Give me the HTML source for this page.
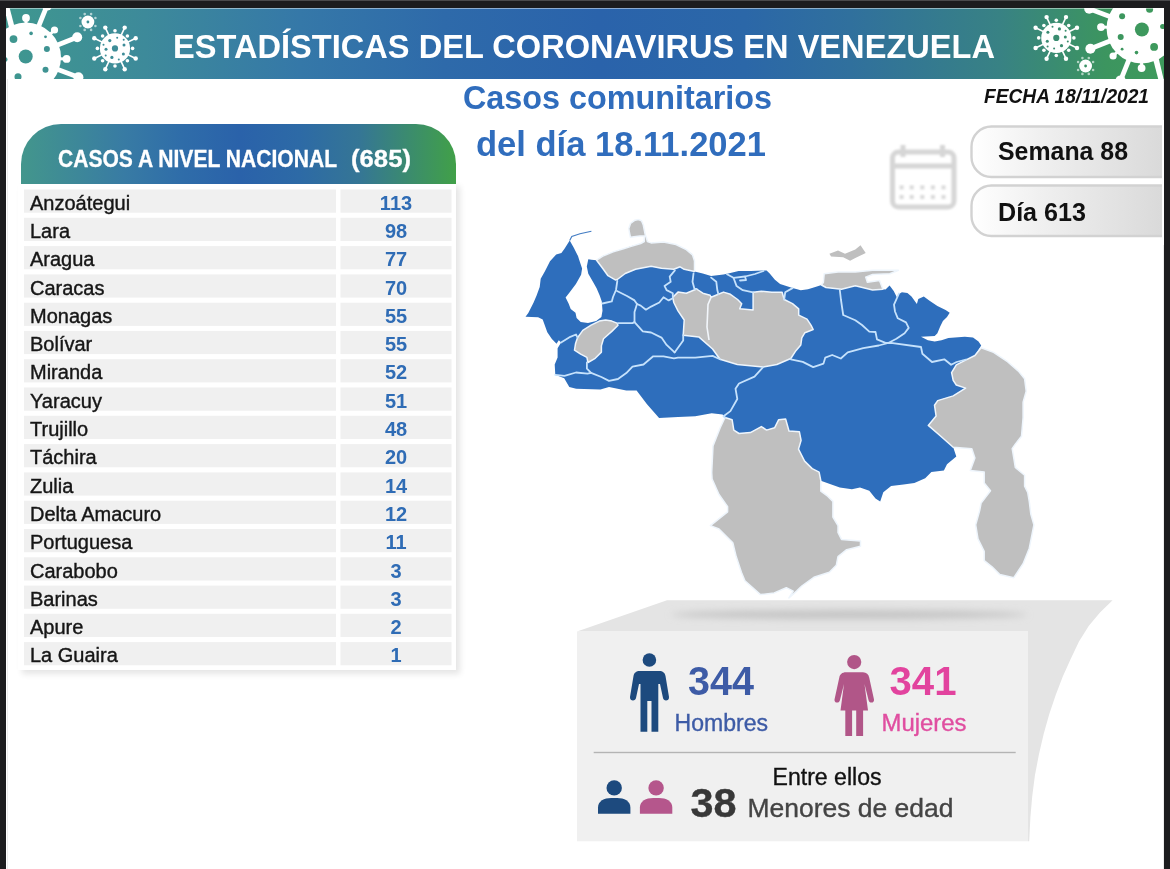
<!DOCTYPE html><html><head><meta charset="utf-8"><title>Estadísticas</title><style>html,body{margin:0;padding:0;background:#1c1c1e;width:1170px;height:869px;overflow:hidden}svg{display:block;will-change:transform}text{font-family:"Liberation Sans",sans-serif}</style></head><body>
<svg width="1170" height="869" viewBox="0 0 1170 869">
<defs>
<linearGradient id="gBan" x1="6" y1="0" x2="1164" y2="0" gradientUnits="userSpaceOnUse"><stop offset="0" stop-color="#3f978f"/><stop offset="0.12" stop-color="#3d8a9a"/><stop offset="0.254" stop-color="#3578a8"/><stop offset="0.379" stop-color="#2e6aaa"/><stop offset="0.513" stop-color="#2a63ab"/><stop offset="0.638" stop-color="#2b67a8"/><stop offset="0.729" stop-color="#30709d"/><stop offset="0.858" stop-color="#388284"/><stop offset="0.95" stop-color="#3c955f"/><stop offset="1" stop-color="#3e9a5c"/></linearGradient>
<linearGradient id="gHead" x1="21" y1="0" x2="456" y2="0" gradientUnits="userSpaceOnUse"><stop offset="0" stop-color="#43968c"/><stop offset="0.239" stop-color="#387ba4"/><stop offset="0.366" stop-color="#2f6da9"/><stop offset="0.503" stop-color="#2a62aa"/><stop offset="0.641" stop-color="#2d6aa6"/><stop offset="0.779" stop-color="#357695"/><stop offset="1" stop-color="#41a048"/></linearGradient>
<linearGradient id="gBox" x1="0" y1="0" x2="1" y2="0"><stop offset="0" stop-color="#ffffff"/><stop offset="0.35" stop-color="#f0f0f0"/><stop offset="1" stop-color="#d9d9d9"/></linearGradient>
<clipPath id="cBan"><rect x="6" y="8" width="1158" height="71"/></clipPath>
<mask id="mVir" maskUnits="userSpaceOnUse" x="0" y="0" width="1170" height="869"><g><g fill="#fff"><circle cx="26" cy="57.5" r="35"/><line x1="26" y1="57.5" x2="26.0" y2="17.9" stroke="#fff" stroke-width="3"/><circle cx="26.0" cy="17.9" r="3.9"/><line x1="26" y1="57.5" x2="47.0" y2="5.6" stroke="#fff" stroke-width="4.8"/><circle cx="47.0" cy="5.6" r="5"/><line x1="26" y1="57.5" x2="54.5" y2="30.0" stroke="#fff" stroke-width="3"/><circle cx="54.5" cy="30.0" r="3.6"/><line x1="26" y1="57.5" x2="77.2" y2="37.3" stroke="#fff" stroke-width="4.8"/><circle cx="77.2" cy="37.3" r="5"/><line x1="26" y1="57.5" x2="66.6" y2="58.9" stroke="#fff" stroke-width="3"/><circle cx="66.6" cy="58.9" r="3.9"/><line x1="26" y1="57.5" x2="78.4" y2="77.2" stroke="#fff" stroke-width="4.8"/><circle cx="78.4" cy="77.2" r="5"/><line x1="26" y1="57.5" x2="56.5" y2="84.9" stroke="#fff" stroke-width="3"/><circle cx="56.5" cy="84.9" r="4"/><line x1="26" y1="57.5" x2="50.5" y2="107.8" stroke="#fff" stroke-width="4.8"/><circle cx="50.5" cy="107.8" r="5"/><line x1="26" y1="57.5" x2="28.9" y2="98.4" stroke="#fff" stroke-width="3"/><circle cx="28.9" cy="98.4" r="4"/><line x1="26" y1="57.5" x2="8.7" y2="110.8" stroke="#fff" stroke-width="4.8"/><circle cx="8.7" cy="110.8" r="5"/><line x1="26" y1="57.5" x2="-23.4" y2="83.8" stroke="#fff" stroke-width="4.8"/><circle cx="-23.4" cy="83.8" r="5"/><line x1="26" y1="57.5" x2="-24.3" y2="33.0" stroke="#fff" stroke-width="4.8"/><circle cx="-24.3" cy="33.0" r="5"/><line x1="26" y1="57.5" x2="-14.9" y2="54.6" stroke="#fff" stroke-width="3"/><circle cx="-14.9" cy="54.6" r="4"/><line x1="26" y1="57.5" x2="-0.4" y2="88.9" stroke="#fff" stroke-width="3"/><circle cx="-0.4" cy="88.9" r="4"/><polygon points="3.3,4 8.6,4 15,28.5 9.5,30"/></g><g fill="#000"><circle cx="13.5" cy="39.1" r="3.9"/><circle cx="31.1" cy="33.4" r="1.8"/><circle cx="45.5" cy="36.8" r="1.4"/><circle cx="46.9" cy="49" r="3"/><circle cx="25.7" cy="56.5" r="7"/><circle cx="45.5" cy="69.7" r="3"/><circle cx="18" cy="76.8" r="3.5"/><circle cx="5" cy="59.5" r="2.5"/></g></g><g><g fill="#fff"><circle cx="115" cy="48.4" r="15.1"/><line x1="115" y1="48.4" x2="94.3" y2="38.3" stroke="#fff" stroke-width="1.6"/><circle cx="94.3" cy="38.3" r="2.2"/><line x1="115" y1="48.4" x2="105.3" y2="27.6" stroke="#fff" stroke-width="1.6"/><circle cx="105.3" cy="27.6" r="2.2"/><line x1="115" y1="48.4" x2="124.7" y2="27.6" stroke="#fff" stroke-width="1.6"/><circle cx="124.7" cy="27.6" r="2.2"/><line x1="115" y1="48.4" x2="135.7" y2="38.3" stroke="#fff" stroke-width="1.6"/><circle cx="135.7" cy="38.3" r="2.2"/><line x1="115" y1="48.4" x2="135.7" y2="58.5" stroke="#fff" stroke-width="1.6"/><circle cx="135.7" cy="58.5" r="2.2"/><line x1="115" y1="48.4" x2="124.7" y2="69.2" stroke="#fff" stroke-width="1.6"/><circle cx="124.7" cy="69.2" r="2.2"/><line x1="115" y1="48.4" x2="105.3" y2="69.2" stroke="#fff" stroke-width="1.6"/><circle cx="105.3" cy="69.2" r="2.2"/><line x1="115" y1="48.4" x2="94.3" y2="58.5" stroke="#fff" stroke-width="1.6"/><circle cx="94.3" cy="58.5" r="2.2"/><circle cx="115.0" cy="30.8" r="1.8"/><circle cx="127.4" cy="36.0" r="1.8"/><circle cx="132.6" cy="48.4" r="1.8"/><circle cx="127.4" cy="60.8" r="1.8"/><circle cx="115.0" cy="66.0" r="1.8"/><circle cx="102.6" cy="60.8" r="1.8"/><circle cx="97.4" cy="48.4" r="1.8"/><circle cx="102.6" cy="36.0" r="1.8"/></g><g fill="#000"><circle cx="115" cy="48.4" r="3.1"/><circle cx="109.8" cy="40.6" r="1.6"/><circle cx="124.0" cy="45.0" r="1.5"/><circle cx="106.0" cy="49.3" r="1.5"/><circle cx="123.4" cy="54.0" r="1.5"/><circle cx="111.9" cy="57.4" r="1.6"/><circle cx="117.2" cy="37.8" r="1"/><circle cx="103.5" cy="44.7" r="1"/><circle cx="105.7" cy="55.6" r="1"/><circle cx="118.8" cy="59.6" r="1"/><circle cx="123.7" cy="39.7" r="1"/></g></g><g><g fill="#fff"><circle cx="87.9" cy="22" r="6.4"/><circle cx="84.7" cy="14.1" r="1.3" fill-opacity="0.6"/><circle cx="91.1" cy="14.1" r="1.3" fill-opacity="0.6"/><circle cx="95.4" cy="18.0" r="1.3" fill-opacity="0.6"/><circle cx="95.4" cy="26.0" r="1.3" fill-opacity="0.6"/><circle cx="91.1" cy="29.9" r="1.3" fill-opacity="0.6"/><circle cx="84.7" cy="29.9" r="1.3" fill-opacity="0.6"/><circle cx="80.4" cy="26.0" r="1.3" fill-opacity="0.6"/><circle cx="80.4" cy="18.0" r="1.3" fill-opacity="0.6"/></g><g fill="#000"><circle cx="87.9" cy="22" r="1.4"/></g></g><g transform="rotate(180 583.8 43)"><g fill="#fff"><circle cx="26" cy="57.5" r="35"/><line x1="26" y1="57.5" x2="26.0" y2="17.9" stroke="#fff" stroke-width="3"/><circle cx="26.0" cy="17.9" r="3.9"/><line x1="26" y1="57.5" x2="47.0" y2="5.6" stroke="#fff" stroke-width="4.8"/><circle cx="47.0" cy="5.6" r="5"/><line x1="26" y1="57.5" x2="54.5" y2="30.0" stroke="#fff" stroke-width="3"/><circle cx="54.5" cy="30.0" r="3.6"/><line x1="26" y1="57.5" x2="77.2" y2="37.3" stroke="#fff" stroke-width="4.8"/><circle cx="77.2" cy="37.3" r="5"/><line x1="26" y1="57.5" x2="66.6" y2="58.9" stroke="#fff" stroke-width="3"/><circle cx="66.6" cy="58.9" r="3.9"/><line x1="26" y1="57.5" x2="78.4" y2="77.2" stroke="#fff" stroke-width="4.8"/><circle cx="78.4" cy="77.2" r="5"/><line x1="26" y1="57.5" x2="56.5" y2="84.9" stroke="#fff" stroke-width="3"/><circle cx="56.5" cy="84.9" r="4"/><line x1="26" y1="57.5" x2="50.5" y2="107.8" stroke="#fff" stroke-width="4.8"/><circle cx="50.5" cy="107.8" r="5"/><line x1="26" y1="57.5" x2="28.9" y2="98.4" stroke="#fff" stroke-width="3"/><circle cx="28.9" cy="98.4" r="4"/><line x1="26" y1="57.5" x2="8.7" y2="110.8" stroke="#fff" stroke-width="4.8"/><circle cx="8.7" cy="110.8" r="5"/><line x1="26" y1="57.5" x2="-23.4" y2="83.8" stroke="#fff" stroke-width="4.8"/><circle cx="-23.4" cy="83.8" r="5"/><line x1="26" y1="57.5" x2="-24.3" y2="33.0" stroke="#fff" stroke-width="4.8"/><circle cx="-24.3" cy="33.0" r="5"/><line x1="26" y1="57.5" x2="-14.9" y2="54.6" stroke="#fff" stroke-width="3"/><circle cx="-14.9" cy="54.6" r="4"/><line x1="26" y1="57.5" x2="-0.4" y2="88.9" stroke="#fff" stroke-width="3"/><circle cx="-0.4" cy="88.9" r="4"/><polygon points="3.3,4 8.6,4 15,28.5 9.5,30"/></g><g fill="#000"><circle cx="13.5" cy="39.1" r="3.9"/><circle cx="31.1" cy="33.4" r="1.8"/><circle cx="45.5" cy="36.8" r="1.4"/><circle cx="46.9" cy="49" r="3"/><circle cx="25.7" cy="56.5" r="7"/><circle cx="45.5" cy="69.7" r="3"/><circle cx="18" cy="76.8" r="3.5"/><circle cx="5" cy="59.5" r="2.5"/></g></g><g transform="rotate(180 585.65 43.15)"><g fill="#fff"><circle cx="115" cy="48.4" r="15.1"/><line x1="115" y1="48.4" x2="94.3" y2="38.3" stroke="#fff" stroke-width="1.6"/><circle cx="94.3" cy="38.3" r="2.2"/><line x1="115" y1="48.4" x2="105.3" y2="27.6" stroke="#fff" stroke-width="1.6"/><circle cx="105.3" cy="27.6" r="2.2"/><line x1="115" y1="48.4" x2="124.7" y2="27.6" stroke="#fff" stroke-width="1.6"/><circle cx="124.7" cy="27.6" r="2.2"/><line x1="115" y1="48.4" x2="135.7" y2="38.3" stroke="#fff" stroke-width="1.6"/><circle cx="135.7" cy="38.3" r="2.2"/><line x1="115" y1="48.4" x2="135.7" y2="58.5" stroke="#fff" stroke-width="1.6"/><circle cx="135.7" cy="58.5" r="2.2"/><line x1="115" y1="48.4" x2="124.7" y2="69.2" stroke="#fff" stroke-width="1.6"/><circle cx="124.7" cy="69.2" r="2.2"/><line x1="115" y1="48.4" x2="105.3" y2="69.2" stroke="#fff" stroke-width="1.6"/><circle cx="105.3" cy="69.2" r="2.2"/><line x1="115" y1="48.4" x2="94.3" y2="58.5" stroke="#fff" stroke-width="1.6"/><circle cx="94.3" cy="58.5" r="2.2"/><circle cx="115.0" cy="30.8" r="1.8"/><circle cx="127.4" cy="36.0" r="1.8"/><circle cx="132.6" cy="48.4" r="1.8"/><circle cx="127.4" cy="60.8" r="1.8"/><circle cx="115.0" cy="66.0" r="1.8"/><circle cx="102.6" cy="60.8" r="1.8"/><circle cx="97.4" cy="48.4" r="1.8"/><circle cx="102.6" cy="36.0" r="1.8"/></g><g fill="#000"><circle cx="115" cy="48.4" r="3.1"/><circle cx="109.8" cy="40.6" r="1.6"/><circle cx="124.0" cy="45.0" r="1.5"/><circle cx="106.0" cy="49.3" r="1.5"/><circle cx="123.4" cy="54.0" r="1.5"/><circle cx="111.9" cy="57.4" r="1.6"/><circle cx="117.2" cy="37.8" r="1"/><circle cx="103.5" cy="44.7" r="1"/><circle cx="105.7" cy="55.6" r="1"/><circle cx="118.8" cy="59.6" r="1"/><circle cx="123.7" cy="39.7" r="1"/></g></g><g transform="rotate(180 586.75 44)"><g fill="#fff"><circle cx="87.9" cy="22" r="6.4"/><circle cx="84.7" cy="14.1" r="1.3" fill-opacity="0.6"/><circle cx="91.1" cy="14.1" r="1.3" fill-opacity="0.6"/><circle cx="95.4" cy="18.0" r="1.3" fill-opacity="0.6"/><circle cx="95.4" cy="26.0" r="1.3" fill-opacity="0.6"/><circle cx="91.1" cy="29.9" r="1.3" fill-opacity="0.6"/><circle cx="84.7" cy="29.9" r="1.3" fill-opacity="0.6"/><circle cx="80.4" cy="26.0" r="1.3" fill-opacity="0.6"/><circle cx="80.4" cy="18.0" r="1.3" fill-opacity="0.6"/></g><g fill="#000"><circle cx="87.9" cy="22" r="1.4"/></g></g></mask>
<filter id="fSh" x="-10%" y="-10%" width="130%" height="130%"><feGaussianBlur stdDeviation="3"/></filter>
<filter id="fBl" x="-10%" y="-10%" width="120%" height="120%"><feGaussianBlur stdDeviation="0.8"/></filter>
<filter id="fBl2" x="-10%" y="-20%" width="120%" height="140%"><feGaussianBlur stdDeviation="0.6"/></filter>
</defs>
<rect x="0" y="0" width="1170" height="869" fill="#1c1c1e"/>
<rect x="0" y="0" width="1170" height="1" fill="#4a4a4c"/>
<rect x="6" y="8" width="1158" height="861" fill="#ffffff"/>
<rect x="7" y="79" width="1" height="790" fill="#ececec"/><rect x="1163" y="79" width="1" height="790" fill="#ececec"/>
<rect x="6" y="8" width="1158" height="71" fill="url(#gBan)"/>
<g clip-path="url(#cBan)"><rect x="6" y="8" width="1158" height="71" fill="#fff" mask="url(#mVir)"/></g>
<rect x="6" y="8" width="1158" height="1" fill="#fff" opacity="0.45"/>
<text x="173" y="57.5" font-size="33" font-weight="bold" fill="#fff" textLength="822" lengthAdjust="spacingAndGlyphs">ESTADÍSTICAS DEL CORONAVIRUS EN VENEZUELA</text>
<text x="463" y="109" font-size="34" font-weight="bold" fill="#306dbd" textLength="309" lengthAdjust="spacingAndGlyphs">Casos comunitarios</text>
<text x="476" y="156.3" font-size="34.5" font-weight="bold" fill="#306dbd" textLength="290" lengthAdjust="spacingAndGlyphs">del día 18.11.2021</text>
<text x="984" y="102.6" font-size="19.5" font-weight="bold" font-style="italic" fill="#111" textLength="165" lengthAdjust="spacingAndGlyphs">FECHA 18/11/2021</text>
<rect x="22" y="186" width="438" height="488" fill="#000" opacity="0.10" filter="url(#fSh)"/>
<rect x="18" y="184" width="438" height="486" fill="#fff"/>
<path d="M21 184 V164 A40 40 0 0 1 61 124 H416 A40 40 0 0 1 456 164 V184 Z" fill="url(#gHead)"/>
<text x="58" y="166.5" font-size="23" font-weight="bold" fill="#fff" stroke="#fff" stroke-width="0.3" textLength="279" lengthAdjust="spacingAndGlyphs">CASOS A NIVEL NACIONAL</text>
<text x="351" y="166.5" font-size="23" font-weight="bold" fill="#fff" stroke="#fff" stroke-width="0.3" textLength="60" lengthAdjust="spacingAndGlyphs">(685)</text>
<rect x="24" y="189.5" width="312" height="23.2" fill="#f0f0f0"/>
<rect x="340.5" y="189.5" width="111" height="23.2" fill="#f0f0f0"/>
<text x="30" y="209.7" font-size="20" fill="#161616" stroke="#161616" stroke-width="0.4">Anzoátegui</text>
<text x="396" y="209.7" font-size="20" font-weight="bold" fill="#2f6cb5" text-anchor="middle">113</text>
<rect x="24" y="217.8" width="312" height="23.2" fill="#f0f0f0"/>
<rect x="340.5" y="217.8" width="111" height="23.2" fill="#f0f0f0"/>
<text x="30" y="238.0" font-size="20" fill="#161616" stroke="#161616" stroke-width="0.4">Lara</text>
<text x="396" y="238.0" font-size="20" font-weight="bold" fill="#2f6cb5" text-anchor="middle">98</text>
<rect x="24" y="246.1" width="312" height="23.2" fill="#f0f0f0"/>
<rect x="340.5" y="246.1" width="111" height="23.2" fill="#f0f0f0"/>
<text x="30" y="266.3" font-size="20" fill="#161616" stroke="#161616" stroke-width="0.4">Aragua</text>
<text x="396" y="266.3" font-size="20" font-weight="bold" fill="#2f6cb5" text-anchor="middle">77</text>
<rect x="24" y="274.4" width="312" height="23.2" fill="#f0f0f0"/>
<rect x="340.5" y="274.4" width="111" height="23.2" fill="#f0f0f0"/>
<text x="30" y="294.6" font-size="20" fill="#161616" stroke="#161616" stroke-width="0.4">Caracas</text>
<text x="396" y="294.6" font-size="20" font-weight="bold" fill="#2f6cb5" text-anchor="middle">70</text>
<rect x="24" y="302.7" width="312" height="23.2" fill="#f0f0f0"/>
<rect x="340.5" y="302.7" width="111" height="23.2" fill="#f0f0f0"/>
<text x="30" y="322.9" font-size="20" fill="#161616" stroke="#161616" stroke-width="0.4">Monagas</text>
<text x="396" y="322.9" font-size="20" font-weight="bold" fill="#2f6cb5" text-anchor="middle">55</text>
<rect x="24" y="330.9" width="312" height="23.2" fill="#f0f0f0"/>
<rect x="340.5" y="330.9" width="111" height="23.2" fill="#f0f0f0"/>
<text x="30" y="351.1" font-size="20" fill="#161616" stroke="#161616" stroke-width="0.4">Bolívar</text>
<text x="396" y="351.1" font-size="20" font-weight="bold" fill="#2f6cb5" text-anchor="middle">55</text>
<rect x="24" y="359.2" width="312" height="23.2" fill="#f0f0f0"/>
<rect x="340.5" y="359.2" width="111" height="23.2" fill="#f0f0f0"/>
<text x="30" y="379.4" font-size="20" fill="#161616" stroke="#161616" stroke-width="0.4">Miranda</text>
<text x="396" y="379.4" font-size="20" font-weight="bold" fill="#2f6cb5" text-anchor="middle">52</text>
<rect x="24" y="387.5" width="312" height="23.2" fill="#f0f0f0"/>
<rect x="340.5" y="387.5" width="111" height="23.2" fill="#f0f0f0"/>
<text x="30" y="407.7" font-size="20" fill="#161616" stroke="#161616" stroke-width="0.4">Yaracuy</text>
<text x="396" y="407.7" font-size="20" font-weight="bold" fill="#2f6cb5" text-anchor="middle">51</text>
<rect x="24" y="415.8" width="312" height="23.2" fill="#f0f0f0"/>
<rect x="340.5" y="415.8" width="111" height="23.2" fill="#f0f0f0"/>
<text x="30" y="436.0" font-size="20" fill="#161616" stroke="#161616" stroke-width="0.4">Trujillo</text>
<text x="396" y="436.0" font-size="20" font-weight="bold" fill="#2f6cb5" text-anchor="middle">48</text>
<rect x="24" y="444.1" width="312" height="23.2" fill="#f0f0f0"/>
<rect x="340.5" y="444.1" width="111" height="23.2" fill="#f0f0f0"/>
<text x="30" y="464.3" font-size="20" fill="#161616" stroke="#161616" stroke-width="0.4">Táchira</text>
<text x="396" y="464.3" font-size="20" font-weight="bold" fill="#2f6cb5" text-anchor="middle">20</text>
<rect x="24" y="472.4" width="312" height="23.2" fill="#f0f0f0"/>
<rect x="340.5" y="472.4" width="111" height="23.2" fill="#f0f0f0"/>
<text x="30" y="492.6" font-size="20" fill="#161616" stroke="#161616" stroke-width="0.4">Zulia</text>
<text x="396" y="492.6" font-size="20" font-weight="bold" fill="#2f6cb5" text-anchor="middle">14</text>
<rect x="24" y="500.7" width="312" height="23.2" fill="#f0f0f0"/>
<rect x="340.5" y="500.7" width="111" height="23.2" fill="#f0f0f0"/>
<text x="30" y="520.9" font-size="20" fill="#161616" stroke="#161616" stroke-width="0.4">Delta Amacuro</text>
<text x="396" y="520.9" font-size="20" font-weight="bold" fill="#2f6cb5" text-anchor="middle">12</text>
<rect x="24" y="529.0" width="312" height="23.2" fill="#f0f0f0"/>
<rect x="340.5" y="529.0" width="111" height="23.2" fill="#f0f0f0"/>
<text x="30" y="549.2" font-size="20" fill="#161616" stroke="#161616" stroke-width="0.4">Portuguesa</text>
<text x="396" y="549.2" font-size="20" font-weight="bold" fill="#2f6cb5" text-anchor="middle">11</text>
<rect x="24" y="557.3" width="312" height="23.2" fill="#f0f0f0"/>
<rect x="340.5" y="557.3" width="111" height="23.2" fill="#f0f0f0"/>
<text x="30" y="577.5" font-size="20" fill="#161616" stroke="#161616" stroke-width="0.4">Carabobo</text>
<text x="396" y="577.5" font-size="20" font-weight="bold" fill="#2f6cb5" text-anchor="middle">3</text>
<rect x="24" y="585.6" width="312" height="23.2" fill="#f0f0f0"/>
<rect x="340.5" y="585.6" width="111" height="23.2" fill="#f0f0f0"/>
<text x="30" y="605.8" font-size="20" fill="#161616" stroke="#161616" stroke-width="0.4">Barinas</text>
<text x="396" y="605.8" font-size="20" font-weight="bold" fill="#2f6cb5" text-anchor="middle">3</text>
<rect x="24" y="613.8" width="312" height="23.2" fill="#f0f0f0"/>
<rect x="340.5" y="613.8" width="111" height="23.2" fill="#f0f0f0"/>
<text x="30" y="634.0" font-size="20" fill="#161616" stroke="#161616" stroke-width="0.4">Apure</text>
<text x="396" y="634.0" font-size="20" font-weight="bold" fill="#2f6cb5" text-anchor="middle">2</text>
<rect x="24" y="642.1" width="312" height="23.2" fill="#f0f0f0"/>
<rect x="340.5" y="642.1" width="111" height="23.2" fill="#f0f0f0"/>
<text x="30" y="662.3" font-size="20" fill="#161616" stroke="#161616" stroke-width="0.4">La Guaira</text>
<text x="396" y="662.3" font-size="20" font-weight="bold" fill="#2f6cb5" text-anchor="middle">1</text>
<g fill="none" stroke="#d6d6d6" stroke-width="5" filter="url(#fBl)"><rect x="892.5" y="152" width="61.5" height="55" rx="6"/><line x1="892" y1="166" x2="954" y2="166"/><line x1="903" y1="145" x2="903" y2="157"/><line x1="942.5" y1="145" x2="942.5" y2="157"/></g>
<g fill="#d9d9d9" filter="url(#fBl)"><rect x="899.6" y="185.4" width="4" height="4"/><rect x="909.7" y="185.4" width="4" height="4"/><rect x="920.3" y="185.4" width="4" height="4"/><rect x="930.9" y="185.4" width="4" height="4"/><rect x="941.5" y="185.4" width="4" height="4"/><rect x="899.6" y="195.0" width="4" height="4"/><rect x="909.7" y="195.0" width="4" height="4"/><rect x="920.3" y="195.0" width="4" height="4"/><rect x="930.9" y="195.0" width="4" height="4"/><rect x="941.5" y="195.0" width="4" height="4"/></g>
<path d="M1166 126.5 H991.5 A20 20 0 0 0 971.5 146.5 V157.0 A20 20 0 0 0 991.5 177.0 H1166 Z" fill="url(#gBox)"/>
<path d="M1166 126.5 H991.5 A20 20 0 0 0 971.5 146.5 V157.0 A20 20 0 0 0 991.5 177.0 H1166 Z" fill="none" stroke="#d2d2d2" stroke-width="2.4" filter="url(#fBl2)"/>
<text x="998" y="160.0" font-size="25" font-weight="bold" fill="#111" textLength="130" lengthAdjust="spacingAndGlyphs">Semana 88</text>
<path d="M1166 185.5 H991.5 A20 20 0 0 0 971.5 205.5 V216.0 A20 20 0 0 0 991.5 236.0 H1166 Z" fill="url(#gBox)"/>
<path d="M1166 185.5 H991.5 A20 20 0 0 0 971.5 205.5 V216.0 A20 20 0 0 0 991.5 236.0 H1166 Z" fill="none" stroke="#d2d2d2" stroke-width="2.4" filter="url(#fBl2)"/>
<text x="998" y="221.2" font-size="25" font-weight="bold" fill="#111" textLength="88" lengthAdjust="spacingAndGlyphs">Día 613</text>
<rect x="1162" y="120" width="2" height="125" fill="#fff"/><g id="map">
<polygon points="569.7,240.5 573.8,247.8 578.0,256.1 579.0,259.2 588.3,259.2 591.4,259.7 596.6,260.2 602.8,256.1 613.2,251.9 623.5,248.8 630.4,246.6 640.7,243.5 644.5,241.5 646.9,241.4 651.1,242.9 663.5,241.9 675.9,244.5 686.3,249.7 692.5,254.8 694.5,261.1 694.5,271.4 702.8,273.5 711.1,276.1 723.5,274.5 728.3,273.6 738.6,271.0 751.1,271.0 763.5,270.5 766.6,270.5 769.7,273.6 774.9,279.8 780.1,284.0 786.3,286.1 792.5,288.1 800.8,290.2 808.0,289.2 815.3,287.1 821.5,285.0 826.0,287.5 841.5,289.2 855.3,285.8 872.6,290.1 882.9,289.3 885.5,289.6 889.6,285.5 893.7,290.9 897.1,297.8 899.0,294.0 901.9,292.3 907.4,293.0 911.5,296.4 916.9,303.9 918.3,299.1 923.8,296.4 929.2,300.5 937.4,306.0 945.6,310.1 949.7,312.8 947.0,316.9 942.9,321.0 940.2,326.5 937.4,333.3 934.7,336.1 921.0,336.8 927.9,340.2 934.7,341.5 941.5,340.2 948.4,338.1 964.8,336.8 973.0,337.4 978.5,341.5 981.2,345.6 974.9,355.5 965.6,360.2 956.3,364.8 951.6,372.6 953.2,380.4 956.3,385.0 965.6,388.1 953.2,395.9 937.7,400.6 934.5,405.2 936.1,416.1 928.3,425.4 940.8,436.3 953.2,447.2 956.3,456.5 947.0,464.3 943.9,470.5 931.4,472.1 925.2,478.3 914.4,483.0 903.5,484.5 891.1,486.1 883.3,492.3 880.2,501.6 875.5,498.5 869.3,490.7 860.0,487.6 851.9,489.3 839.8,487.6 820.8,480.7 819.1,472.1 812.2,468.6 804.6,461.1 798.5,449.1 801.1,440.4 799.4,431.8 789.0,431.0 785.6,418.9 778.7,419.7 774.6,427.8 766.6,430.1 761.4,426.6 750.4,432.6 739.0,433.5 733.8,430.1 732.1,419.7 725.0,417.5 722.6,414.5 711.7,413.3 702.1,415.1 695.3,416.3 678.0,417.1 659.1,418.0 647.0,404.2 636.6,390.4 626.3,390.4 609.0,387.0 600.4,389.5 576.2,388.7 569.3,386.9 564.2,378.3 555.3,374.8 554.7,364.4 557.6,357.5 557.6,348.3 561.1,342.6 558.8,340.3 556.5,343.7 551.9,339.1 547.3,332.2 542.7,319.6 538.1,317.3 525.5,316.8 528.3,313.0 533.5,302.7 536.6,295.4 539.7,287.1 540.7,278.8 544.8,271.6 550.0,261.2 556.2,254.5 561.4,253.0 564.5,248.8" fill="#2e6ebc"/>
<polygon points="588.3,257.5 579.0,257.5 579.0,259.2 582.1,268.5 581.1,274.7 575.9,284.0 569.7,292.3 565.6,297.5 568.7,303.7 570.7,308.9 575.5,312.8 576.6,318.0 580.7,322.1 588.0,323.1 596.2,321.1 601.4,316.9 602.5,310.7 601.8,301.6 599.7,295.4 596.6,288.2 592.5,280.9 588.3,273.7 586.8,266.4 588.3,259.2" fill="#fff"/>
<polyline points="569.7,240.5 571.8,236.4 580,233.8 591.4,231.2" fill="none" stroke="#2e6ebc" stroke-width="1.1" opacity="0.9"/>
<polygon points="596.6,260.2 602.8,256.1 613.2,251.9 623.5,248.8 630.4,246.6 640.7,243.5 644.3,241.5 644.4,236.0 640.0,236.0 634.0,236.8 630.5,237.3 629.5,233.0 628.8,228.5 630.5,223.5 635.0,220.2 638.5,219.6 641.5,220.8 643.3,225.0 644.4,230.5 645.2,234.5 646.5,238.0 647.4,241.6 651.1,242.9 663.5,241.9 675.9,244.5 686.3,249.7 692.5,254.8 694.5,261.1 694.5,271.4 684.2,269.3 680.1,266.8 673.8,269.3 661.4,268.3 651.1,266.2 635.5,269.3 625.2,273.5 617.3,279.5 615.3,279.9 608.0,275.7 602.8,268.5" fill="#bfbfbf" stroke="#eef5fc" stroke-width="1.5" stroke-linejoin="round"/>
<polygon points="577.6,337.6 582.8,330.4 591.1,325.2 599.3,321.1 605.6,320.0 611.8,321.1 617.0,323.1 618.0,325.2 611.8,331.4 603.5,338.7 601.4,345.9 601.4,352.1 595.2,358.3 588.0,362.5 586.9,357.3 580.7,354.2 574.5,350.1 575.5,343.8" fill="#bfbfbf" stroke="#eef5fc" stroke-width="1.5" stroke-linejoin="round"/>
<polygon points="672.8,297.3 678.0,292.1 686.3,293.2 696.6,289.0 702.8,293.2 710.1,295.2 711.1,297.3 718.4,294.2 723.5,292.1 730.4,294.3 737.6,299.5 741.7,303.7 739.7,308.8 753.1,309.9 753.1,299.5 753.1,292.3 761.4,291.2 771.8,292.3 782.1,292.3 784.2,299.5 792.5,303.7 798.7,308.8 798.7,315.1 807.0,319.2 811.1,325.4 813.2,329.5 804.9,332.7 801.8,337.8 800.8,345.0 795.9,350.7 790.8,358.5 776.9,364.5 763.1,367.1 737.3,364.5 720.0,359.3 712.6,349.0 698.8,336.9 683.2,335.2 684.2,320.0 678.0,310.8 673.8,302.5" fill="#bfbfbf" stroke="#eef5fc" stroke-width="1.5" stroke-linejoin="round"/>
<polygon points="824.2,273.7 838.0,272.0 855.3,272.0 872.6,270.2 898.4,270.2 889.8,273.7 872.6,274.5 865.7,277.1 867.4,282.3 879.5,280.6 882.9,289.3 872.6,290.1 855.3,285.8 841.5,289.2 826.0,287.5 821.5,285.0 823.4,282.3" fill="#bfbfbf" stroke="#eef5fc" stroke-width="1.5" stroke-linejoin="round"/>
<polygon points="725.0,417.5 732.1,419.7 733.8,430.1 739.0,433.5 750.4,432.6 761.4,426.6 766.6,430.1 774.6,427.8 778.7,419.7 785.6,418.9 789.0,431.0 799.4,431.8 801.1,440.4 798.5,449.1 804.6,461.1 812.2,468.6 819.1,472.1 820.8,480.7 820.8,491.1 827.7,496.2 832.9,501.4 832.9,517.0 838.0,525.6 838.0,532.5 841.5,539.4 860.5,541.1 860.5,546.3 846.7,549.7 838.0,556.6 836.3,565.3 829.4,572.2 813.9,577.3 801.8,586.0 796.6,591.1 788.9,598.0 793.2,591.1 786.3,587.7 774.2,592.9 760.4,594.6 744.9,580.8 741.4,572.2 736.2,556.6 732.8,542.8 719.0,529.0 710.4,525.6 727.6,511.8 727.6,506.6 719.0,494.5 712.1,479.0 711.7,472.5 713.0,445.9 720.2,427.8" fill="#bfbfbf" stroke="#eef5fc" stroke-width="1.5" stroke-linejoin="round"/>
<polygon points="981.1,347.8 993.6,352.4 1007.5,361.7 1018.4,371.1 1024.6,378.8 1026.2,391.2 1023.1,402.1 1023.1,417.7 1021.5,436.3 1015.3,444.1 1012.2,448.7 1013.8,458.0 1015.3,467.4 1024.6,475.2 1024.6,486.1 1027.7,492.3 1029.3,501.6 1030.8,514.0 1033.9,524.9 1029.3,548.2 1023.1,563.7 1013.8,577.7 999.8,574.6 992.0,566.8 984.2,560.6 984.2,551.3 978.0,538.9 975.7,524.9 979.6,510.9 981.1,503.1 990.5,490.7 984.2,483.0 984.2,472.1 970.3,470.5 974.9,458.0 971.8,448.7 953.2,447.2 940.8,436.3 928.3,425.4 936.1,416.1 934.5,405.2 937.7,400.6 953.2,395.9 965.6,388.1 956.3,385.0 953.2,380.4 951.6,372.6 956.3,364.8 965.6,360.2 974.9,355.5" fill="#bfbfbf" stroke="#eef5fc" stroke-width="1.5" stroke-linejoin="round"/>
<polygon points="829.4,253.8 838.0,250.4 845.0,253.8 855.3,249.5 860.5,245.2 865.7,253.0 855.3,258.1 850.1,260.7 843.2,257.3 831.1,256.4" fill="#bfbfbf"/>
<g fill="none" stroke="#c6e2fc" stroke-width="1.8" stroke-linejoin="round" stroke-linecap="round">
<polyline points="617.3,281.0 616.0,290.0 613.0,297.0 611.8,301.4 602.5,303.5"/>
<polyline points="617.0,291.0 627.0,296.0 634.5,300.4 637.0,304.0"/>
<polyline points="637.0,304.0 640.7,305.6 645.9,309.7 651.1,306.6 659.3,302.5 663.5,297.3 668.7,300.4 672.8,298.3"/>
<polyline points="637.0,304.0 634.5,312.0 634.5,322.1"/>
<polyline points="618.0,323.1 632.5,323.1 634.5,322.1"/>
<polyline points="634.5,322.1 642.8,331.4 651.1,332.5 661.5,337.6 666.6,344.9 674.6,352.4"/>
<polyline points="674.6,352.4 683.2,340.4 683.2,335.2"/>
<polyline points="555.3,374.8 564.5,375.9 576.0,372.5 587.5,373.6 591.1,372.8 601.4,377.0 609.0,380.9 618.0,379.0 626.3,373.1 632.5,366.6 643.5,364.5 653.2,356.3 663.5,356.3 673.9,358.3 678.0,357.6 695.3,357.6 712.6,355.9 720.0,359.3"/>
<polyline points="586.9,362.5 586.9,368.7 591.1,372.8"/>
<polyline points="561.1,342.6 570.3,336.8 576.0,334.5 577.6,337.6"/>
<polyline points="763.1,367.1 754.5,376.6 739.0,383.5 735.5,388.7 737.3,399.0 730.4,411.1 723.5,416.3 725.0,417.5"/>
<polyline points="790.8,359.3 802.8,361.9 813.2,367.1 823.5,363.6 825.3,357.6 832.2,355.0 840.8,358.5 847.7,352.4 863.2,348.1 878.8,345.5 888.2,343.0"/>
<polyline points="888.2,343.0 890.9,342.9 921.0,347.0 922.4,353.8 932.0,362.0 944.3,359.3 951.1,364.8 956.6,362.0 966.0,359.5"/>
<polyline points="839.8,290.0 841.0,300.0 843.2,315.0 855.3,320.3 862.0,325.0 869.3,331.6 875.5,332.0 877.0,339.4 885.5,342.9 888.2,343.0"/>
<polyline points="899.0,293.5 894.0,304.6 895.0,311.5 897.8,318.3 906.0,322.4 908.7,327.9 904.6,333.3 896.4,338.8 888.2,343.0"/>
<polyline points="792.5,288.1 785.2,292.3 784.2,299.5"/>
<polyline points="674.9,270.4 669.7,276.6 670.7,281.8 664.5,285.9 666.6,290.1 672.8,293.2 672.8,297.3"/>
<polyline points="693.5,273.5 692.5,281.8 694.5,289.0 696.6,289.0"/>
<polyline points="711.1,277.6 716.3,281.8 717.3,290.1 718.4,294.2"/>
<polyline points="727.0,274.3 733.5,277.8 736.6,286.1 742.8,290.2 753.1,292.3"/>
<polyline points="733.5,277.8 745.0,276.5 755.0,274.0 763.5,271.0"/>
<polyline points="740.0,280.5 746.0,280.0 745.0,276.5"/>
</g>
<polyline points="711.1,297.3 708,304.5 707,327 709,340" fill="none" stroke="#f2f6fb" stroke-width="1.6"/>
</g>
<defs><filter id="fSh2" x="-20%" y="-200%" width="140%" height="500%"><feGaussianBlur stdDeviation="3.5"/></filter><linearGradient id="gSide" x1="0" y1="0" x2="1" y2="0"><stop offset="0" stop-color="#e2e2e2"/><stop offset="1" stop-color="#e6e6e6"/></linearGradient></defs>
<path d="M577 631.5 L667 600.3 H1112.6 L1100 612.5 L1088.7 625.9 L1079 641.5 L1070.8 658.8 L1062.8 676.5 L1055.8 694.7 L1049.3 714 L1043.8 733.6 L1038.9 754.5 L1034.9 775.5 L1032.2 796.5 L1030.4 817.3 L1029.2 841.3 H1028 V631.5 Z" fill="#e4e4e4"/>
<ellipse cx="849" cy="614.6" rx="178" ry="4.5" fill="#c4c4c4" filter="url(#fSh2)"/>
<rect x="577" y="631.5" width="451" height="209.8" fill="#f0f0f0"/>
<g fill="#1d4a7e"><circle cx="649.4" cy="660" r="6.8"/><path d="M640 671 H659 C663 671 665 673 665.5 676 L669 697 C669.3 699.5 667.5 700.5 666 700.5 C664.5 700.5 663.3 699.5 663 698 L660 684 L658.3 684 V731.8 H651.5 V701 H647.3 V731.8 H640.5 V684 L639 684 L636 698 C635.7 699.5 634.5 700.5 633 700.5 C631.5 700.5 629.7 699.5 630 697 L633.5 676 C634 673 636 671 640 671 Z"/></g>
<g fill="#b15688"><circle cx="854.2" cy="662.1" r="7.1"/><path d="M846 672.3 H863 C866.5 672.3 868.5 674.5 869.2 677.5 L874 699.5 C874.3 701.5 873 702.6 871.5 702.6 C870 702.6 868.8 701.7 868.5 700 L864.5 684 L868 710.6 H863.1 V736 H856.2 V710.6 H852.1 V736 H845.3 V710.6 H840.5 L844 684 L840 700 C839.7 701.7 838.5 702.6 837 702.6 C835.5 702.6 834.2 701.5 834.5 699.5 L839.3 677.5 C840 674.5 842 672.3 846 672.3 Z"/></g>
<text x="688" y="694.9" font-size="40" font-weight="bold" fill="#3d5ba6" textLength="66" lengthAdjust="spacingAndGlyphs">344</text>
<text x="674.5" y="731.2" font-size="23" fill="#3d5ba6" stroke="#3d5ba6" stroke-width="0.35" textLength="93.5" lengthAdjust="spacingAndGlyphs">Hombres</text>
<text x="889.5" y="694.9" font-size="40" font-weight="bold" fill="#e2439e" textLength="67" lengthAdjust="spacingAndGlyphs">341</text>
<text x="881.5" y="731.2" font-size="23" fill="#e04ea0" stroke="#e04ea0" stroke-width="0.35" textLength="85" lengthAdjust="spacingAndGlyphs">Mujeres</text>
<rect x="593.7" y="751.8" width="422" height="1.4" fill="#b4b4b4"/>
<text x="772.5" y="785.4" font-size="23" fill="#111" stroke="#111" stroke-width="0.35" textLength="109" lengthAdjust="spacingAndGlyphs">Entre ellos</text>
<g fill="#1d4a7e"><circle cx="614.2" cy="787.9" r="7.7"/><path d="M598.0 813.8 V807.5 C598.0 801 604.2 798 611.2 798 H617.2 C624.2 798 630.4000000000001 801 630.4000000000001 807.5 V813.8 Z"/></g>
<g fill="#b5568c"><circle cx="656.1" cy="787.9" r="7.7"/><path d="M639.9 813.8 V807.5 C639.9 801 646.1 798 653.1 798 H659.1 C666.1 798 672.3000000000001 801 672.3000000000001 807.5 V813.8 Z"/></g>
<text x="690.5" y="816.9" font-size="40" font-weight="bold" fill="#383838" stroke="#383838" stroke-width="0.4" textLength="46" lengthAdjust="spacingAndGlyphs">38</text>
<text x="747.5" y="816.9" font-size="26" fill="#444" stroke="#444" stroke-width="0.35" textLength="206" lengthAdjust="spacingAndGlyphs">Menores de edad</text><rect x="0" y="0" width="6" height="869" fill="#1c1c1e"/><rect x="1164" y="0" width="6" height="869" fill="#1c1c1e"/><rect x="0" y="0" width="1170" height="8" fill="#1c1c1e"/><rect x="0" y="0" width="1170" height="1" fill="#4a4a4c"/>
</svg></body></html>
